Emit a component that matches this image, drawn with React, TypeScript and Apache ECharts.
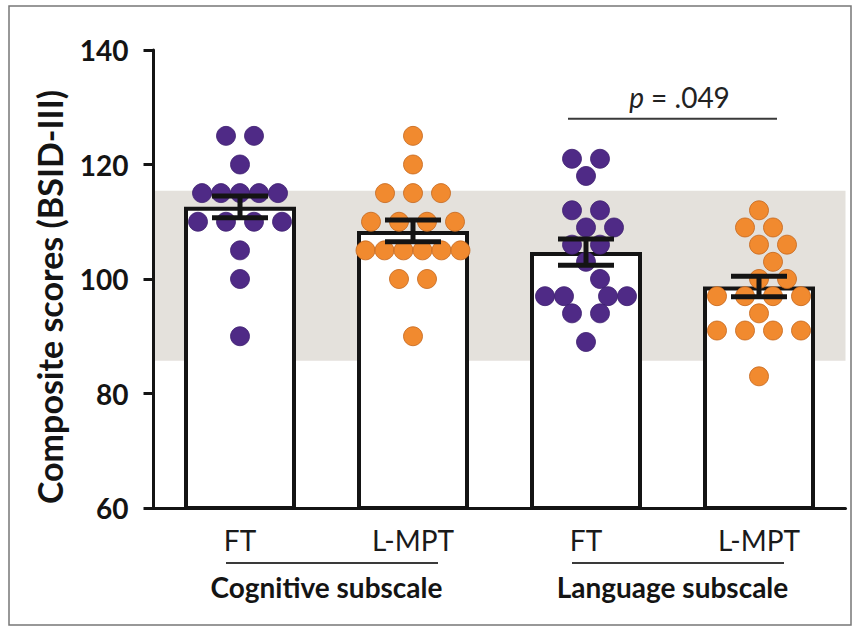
import React, { useEffect, useRef } from "react";
import * as echarts from "echarts";

// ---------- data ----------
const groupLabels = ["FT", "L-MPT", "FT", "L-MPT"];
const subscaleLabels = ["Cognitive subscale", "Language subscale"];
const yMin = 60;
const yMax = 140;
const yInterval = 20;

const cognitiveFT = [125, 125, 120, 115, 115, 115, 115, 115, 110, 110, 110, 110, 105, 100, 90];
const cognitiveLMPT = [125, 120, 115, 115, 115, 110, 110, 110, 110, 105, 105, 105, 105, 105, 105, 100, 100, 90];
const languageFT = [121, 121, 118, 112, 112, 109, 109, 106, 106, 103, 100, 97, 97, 97, 97, 94, 94, 89];
const languageLMPT = [112, 109, 109, 106, 106, 103, 100, 100, 97, 97, 97, 97, 94, 91, 91, 91, 91, 83];

const groupMeans = [112.6, 108.4, 104.7, 98.7];
const groupSEM = [1.9, 1.9, 2.3, 1.8];

const normRangeLow = 85.7;
const normRangeHigh = 115.4;

const pValueText = ".049";
const bracketLevel = 128;

// ---------- styles ----------
const PURPLE = "#4f2a86";
const PURPLE_EDGE = "#3e2070";
const ORANGE = "#f18a2f";
const ORANGE_EDGE = "#c4661c";
const BAND = "#e4e1dc";
const INK = "#141414";
const FONT = "Lato";

const GRID = { left: 153.5, top: 50, width: 692, height: 458 };
const DOT = 19;

// beeswarm: rows of equal values laid side by side, moved sideways to avoid overlap
function swarm(values: number[], pxPerUnit: number, d: number): number[] {
  const order = values.map((v, i) => i).sort((a, b) => values[b] - values[a]);
  const rows: { v: number; idx: number[] }[] = [];
  order.forEach((i) => {
    const last = rows[rows.length - 1];
    if (last && last.v === values[i]) last.idx.push(i);
    else rows.push({ v: values[i], idx: [i] });
  });
  const placed: { x: number; y: number }[] = [];
  const out = new Array(values.length).fill(0);
  rows.forEach((row) => {
    const n = row.idx.length;
    const s = n <= 4 ? 28 : 19;
    const base = row.idx.map((_, k) => (k - (n - 1) / 2) * s);
    const y = row.v * pxPerUnit;
    const cands: number[][] = [];
    [0, 14, -14].forEach((sh) => cands.push(base.map((b) => b + sh)));
    if (n % 2 === 0 && n > 1) {
      for (let g = 14; g <= 40; g += 2) {
        const half: number[] = [];
        for (let k = 0; k < n / 2; k++) half.push(g + k * 19);
        cands.push([...half.map((h) => -h).reverse(), ...half]);
      }
    }
    [28, -28, 42, -42].forEach((sh) => cands.push(base.map((b) => b + sh)));
    const free = (xs: number[]) =>
      !xs.some((x) => placed.some((p) => Math.hypot(p.x - x, p.y - y) < d - 0.5));
    const ext = (xs: number[]) => Math.max(...xs.map((x) => Math.abs(x)));
    let chosen = cands.find((c) => free(c) && ext(c) <= 50) || cands.find(free) || base;
    chosen.forEach((x, k) => {
      out[row.idx[k]] = x;
      placed.push({ x, y });
    });
  });
  return out;
}

export default function App() {
  const ref = useRef<HTMLDivElement>(null);

  useEffect(() => {
    const el = ref.current;
    if (!el) return;
    const chart = echarts.init(el, null, { renderer: "svg" });

    const pxPerUnitY = GRID.height / (yMax - yMin);
    const pxPerCat = GRID.width / groupLabels.length;
    const groups = [cognitiveFT, cognitiveLMPT, languageFT, languageLMPT];
    const fills = [PURPLE, ORANGE, PURPLE, ORANGE];
    const edges = [PURPLE_EDGE, ORANGE_EDGE, PURPLE_EDGE, ORANGE_EDGE];

    const scatterSeries = groups.map((vals, gi) => {
      const offs = swarm(vals, pxPerUnitY, DOT);
      return {
        type: "scatter",
        xAxisIndex: 1,
        yAxisIndex: 0,
        z: 3,
        symbol: "circle",
        symbolSize: DOT,
        itemStyle: { color: fills[gi], borderColor: edges[gi], borderWidth: 0.8, opacity: 1 },
        data: vals.map((v, i) => [gi + offs[i] / pxPerCat, v]),
      };
    });

    const option: any = {
      animation: false,
      grid: { left: GRID.left, top: GRID.top, width: GRID.width, height: GRID.height, containLabel: false },
      xAxis: [
        {
          type: "category",
          data: groupLabels,
          z: 10,
          axisLine: { onZero: false, lineStyle: { color: INK, width: 3 } },
          axisTick: { alignWithLabel: true, length: 9, lineStyle: { color: INK, width: 3 } },
          axisLabel: {
            color: "#1a1a1a",
            fontFamily: FONT,
            fontSize: 28,
            margin: 18,
            formatter: (_v: string, i: number) => groupLabels[i],
          },
          splitLine: { show: false },
        },
        {
          type: "value",
          min: -0.5,
          max: 3.5,
          show: false,
          axisLine: { onZero: false },
        },
        {
          type: "category",
          data: subscaleLabels,
          position: "bottom",
          axisLine: { show: false, onZero: false },
          axisTick: { show: false },
          axisLabel: { color: INK, fontFamily: FONT, fontWeight: "bold", fontSize: 28, margin: 65 },
          splitLine: { show: false },
        },
      ],
      yAxis: {
        type: "value",
        min: yMin,
        max: yMax,
        interval: yInterval,
        position: "left",
        z: 10,
        axisLine: { show: true, onZero: false, lineStyle: { color: INK, width: 3 } },
        axisTick: { show: true, length: 10, lineStyle: { color: INK, width: 3 } },
        axisLabel: { color: INK, fontFamily: FONT, fontWeight: "bold", fontSize: 28, margin: 25 },
        splitLine: { show: false },
      },
      series: [
        {
          type: "custom",
          xAxisIndex: 0,
          yAxisIndex: 0,
          z: 1,
          silent: true,
          data: [[0, normRangeLow, normRangeHigh]],
          renderItem: (params: any, api: any) => {
            const cs = params.coordSys;
            const yTop = api.coord([0, api.value(2)])[1];
            const yBot = api.coord([0, api.value(1)])[1];
            return {
              type: "rect",
              shape: { x: cs.x, y: yTop, width: cs.width, height: yBot - yTop },
              style: { fill: BAND },
            };
          },
        },
        {
          type: "bar",
          xAxisIndex: 0,
          yAxisIndex: 0,
          z: 2,
          barWidth: 112,
          data: groupMeans,
          itemStyle: { color: "#ffffff", borderColor: INK, borderWidth: 4 },
        },
        ...scatterSeries,
        {
          type: "custom",
          xAxisIndex: 0,
          yAxisIndex: 0,
          z: 5,
          data: groupMeans.map((m, i) => [i, m, groupSEM[i]]),
          renderItem: (_p: any, api: any) => {
            const i = api.value(0);
            const m = api.value(1);
            const s = api.value(2);
            const top = api.coord([i, m + s]);
            const bot = api.coord([i, m - s]);
            const half = 28;
            const st = { stroke: INK, lineWidth: 5 };
            return {
              type: "group",
              children: [
                { type: "line", shape: { x1: top[0], y1: top[1], x2: bot[0], y2: bot[1] }, style: st },
                { type: "line", shape: { x1: top[0] - half, y1: top[1], x2: top[0] + half, y2: top[1] }, style: st },
                { type: "line", shape: { x1: bot[0] - half, y1: bot[1], x2: bot[0] + half, y2: bot[1] }, style: st },
              ],
            };
          },
        },
      ],
    };

    chart.setOption(option);

    const errIdx = option.series.length - 1;
    const toPx = (i: number, v: number) => chart.convertToPixel({ seriesIndex: errIdx }, [i, v]) as number[];
    const base = toPx(0, yMin);
    const underlineY = base[1] + 55;
    const c0 = toPx(0, yMin)[0];
    const c1 = toPx(1, yMin)[0];
    const c2 = toPx(2, yMin)[0];
    const c3 = toPx(3, yMin)[0];
    const bracketY = toPx(2, bracketLevel)[1];
    const lineStyle = { stroke: "#3a3a3a", lineWidth: 2 };

    chart.setOption({
      graphic: [
        {
          type: "rect",
          shape: { x: 9, y: 6, width: 842, height: 619 },
          style: { fill: "none", stroke: "#777", lineWidth: 1.5 },
          silent: true,
        },
        {
          type: "text",
          x: 49,
          y: 297,
          rotation: Math.PI / 2,
          style: {
            text: "Composite scores (BSID-III)",
            fill: INK,
            font: `bold 34px ${FONT}`,
            align: "center",
            verticalAlign: "middle",
          },
        },
        { type: "line", shape: { x1: c0 - 14, y1: underlineY, x2: c1 + 25, y2: underlineY }, style: lineStyle },
        { type: "line", shape: { x1: c2 - 14, y1: underlineY, x2: c3 + 25, y2: underlineY }, style: lineStyle },
        { type: "line", shape: { x1: c2 - 18, y1: bracketY, x2: c3 + 18, y2: bracketY }, style: lineStyle },
        {
          type: "text",
          x: (c2 + c3) / 2 + 7,
          y: bracketY - 22,
          style: {
            text: "{i|p}{n| = " + pValueText + "}",
            align: "center",
            verticalAlign: "middle",
            rich: {
              i: { fontFamily: FONT, fontStyle: "italic", fontSize: 28, fill: "#222" },
              n: { fontFamily: FONT, fontSize: 28, fill: "#222" },
            },
          },
        },
      ],
    });

    return () => chart.dispose();
  }, []);

  return (
    <div
      ref={ref}
      style={{ position: "fixed", left: 0, top: 0, width: 860, height: 631, background: "#ffffff" }}
    />
  );
}
